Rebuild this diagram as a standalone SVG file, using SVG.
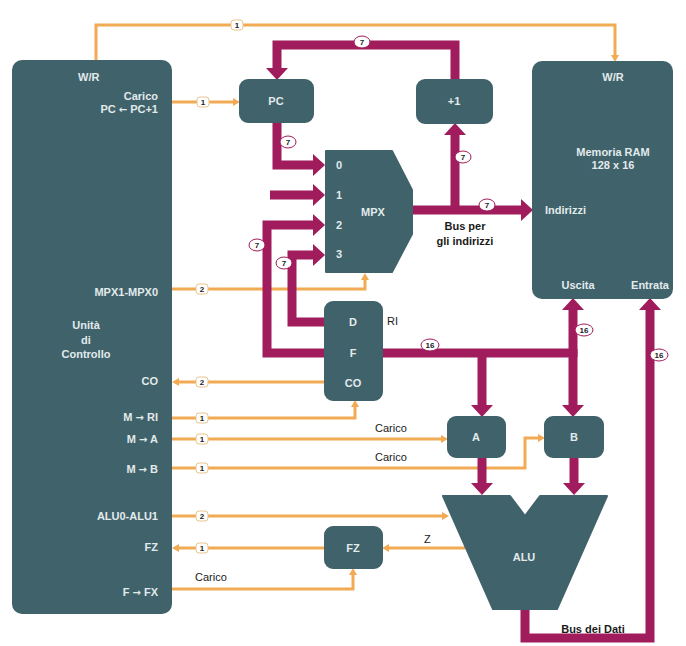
<svg xmlns="http://www.w3.org/2000/svg" width="686" height="646" viewBox="0 0 686 646">
<style>
.box{fill:#40626a;stroke:#40626a;stroke-width:2;stroke-linejoin:round}
.bt{font-family:"Liberation Sans",Arial,sans-serif;font-size:11px;font-weight:bold;fill:#e2eaec}
.ar{font-family:"DejaVu Sans",sans-serif;font-size:10px}
.bl{font-family:"Liberation Sans",Arial,sans-serif;font-size:11px;fill:#1a1a1a}
.bus{fill:none;stroke:#a01c5c;stroke-width:9;stroke-linejoin:miter}
.ctl{fill:none;stroke:#f2aa55;stroke-width:3}
.lab{fill:#fff;stroke:#e9c48f;stroke-width:1}
.labm{fill:#fff;stroke:#a01c5c;stroke-width:1}
.lt{font-family:"Liberation Sans",Arial,sans-serif;font-size:8px;font-weight:bold;fill:#222;text-anchor:middle}
</style>
<defs>
<marker id="am" markerUnits="userSpaceOnUse" markerWidth="12" markerHeight="22" viewBox="0 0 12 22" refX="0" refY="11" orient="auto"><path d="M0,0 L12,11 L0,22 z" fill="#a01c5c"/></marker>
<marker id="ao" markerUnits="userSpaceOnUse" markerWidth="7" markerHeight="8" viewBox="0 0 7 8" refX="0" refY="4" orient="auto"><path d="M0,0 L7,4 L0,8 z" fill="#f2aa55"/></marker>
</defs>
<rect width="686" height="646" fill="#fff"/>

<g id="connectors">
<!-- control lines -->
<path class="ctl" d="M96,60 V25 H615 V55" marker-end="url(#ao)"/>
<path class="ctl" d="M172,102 H233" marker-end="url(#ao)"/>
<path class="ctl" d="M172,289 H365 V280" marker-end="url(#ao)"/>
<path class="ctl" d="M325,382 H179" marker-end="url(#ao)"/>
<path class="ctl" d="M172,418 H355 V407" marker-end="url(#ao)"/>
<path class="ctl" d="M172,439 H441" marker-end="url(#ao)"/>
<path class="ctl" d="M172,468 H525 V438 H538" marker-end="url(#ao)"/>
<path class="ctl" d="M172,516 H442" marker-end="url(#ao)"/>
<path class="ctl" d="M325,548 H179" marker-end="url(#ao)"/>
<path class="ctl" d="M465,548 H389" marker-end="url(#ao)"/>
<path class="ctl" d="M172,589 H353 V575" marker-end="url(#ao)"/>
<!-- buses -->
<path class="bus" d="M455,80 V45 H277 V68" marker-end="url(#am)"/>
<path class="bus" d="M277,122 V165 H313" marker-end="url(#am)"/>
<path class="bus" d="M270,195 H313" marker-end="url(#am)"/>
<path class="bus" d="M326,353 H267 V225 H313" marker-end="url(#am)"/>
<path class="bus" d="M326,322 H292 V255 H313" marker-end="url(#am)"/>
<path class="bus" d="M412,210 H521" marker-end="url(#am)"/>
<path class="bus" d="M455,214 V135" marker-end="url(#am)"/>
<path class="bus" d="M381,353 H577"/>
<path class="bus" d="M482,349 V405" marker-end="url(#am)"/>
<path class="bus" d="M573,357 V310" marker-end="url(#am)"/>
<path class="bus" d="M573,349 V405" marker-end="url(#am)"/>
<path class="bus" d="M482,456 V483" marker-end="url(#am)"/>
<path class="bus" d="M574,456 V483" marker-end="url(#am)"/>
<path class="bus" d="M525,608 V638 H650 V310" marker-end="url(#am)"/>
<!-- width labels -->
<rect class="lab" x="231" y="20" width="12" height="10" rx="3"/><text class="lt" x="237" y="28">1</text>
<rect class="lab" x="197" y="97" width="12" height="10" rx="3"/><text class="lt" x="203" y="105">1</text>
<rect class="lab" x="196" y="284" width="12" height="10" rx="3"/><text class="lt" x="202" y="292">2</text>
<rect class="lab" x="196" y="377" width="12" height="10" rx="3"/><text class="lt" x="202" y="385">2</text>
<rect class="lab" x="196" y="413" width="12" height="10" rx="3"/><text class="lt" x="202" y="421">1</text>
<rect class="lab" x="196" y="434" width="12" height="10" rx="3"/><text class="lt" x="202" y="442">1</text>
<rect class="lab" x="196" y="463" width="12" height="10" rx="3"/><text class="lt" x="202" y="471">1</text>
<rect class="lab" x="196" y="511" width="12" height="10" rx="3"/><text class="lt" x="202" y="519">2</text>
<rect class="lab" x="196" y="543" width="12" height="10" rx="3"/><text class="lt" x="202" y="551">1</text>
<ellipse class="labm" cx="362" cy="42" rx="8" ry="6"/><text class="lt" x="362" y="45">7</text>
<ellipse class="labm" cx="288" cy="142" rx="8" ry="6"/><text class="lt" x="288" y="145">7</text>
<ellipse class="labm" cx="463" cy="157" rx="8" ry="6"/><text class="lt" x="463" y="160">7</text>
<ellipse class="labm" cx="487" cy="205" rx="8" ry="6"/><text class="lt" x="487" y="208">7</text>
<ellipse class="labm" cx="257" cy="245" rx="8" ry="6"/><text class="lt" x="257" y="248">7</text>
<ellipse class="labm" cx="284" cy="263" rx="8" ry="6"/><text class="lt" x="284" y="266">7</text>
<ellipse class="labm" cx="430" cy="345" rx="9" ry="6"/><text class="lt" x="430" y="348">16</text>
<ellipse class="labm" cx="584" cy="330" rx="9" ry="6"/><text class="lt" x="584" y="333">16</text>
<ellipse class="labm" cx="659" cy="355" rx="9" ry="6"/><text class="lt" x="659" y="358">16</text>
</g>

<g id="control-unit">
<rect class="box" x="13" y="61" width="158" height="552" rx="9"/>
<text class="bt" x="78" y="81">W/R</text>
<g text-anchor="end">
<text class="bt" x="158" y="100">Carico</text>
<text class="bt" x="158" y="113">PC <tspan class="ar">←</tspan> PC+1</text>
<text class="bt" x="158" y="296">MPX1-MPX0</text>
<text class="bt" x="158" y="385">CO</text>
<text class="bt" x="158" y="421">M <tspan class="ar">→</tspan> RI</text>
<text class="bt" x="158" y="443">M <tspan class="ar">→</tspan> A</text>
<text class="bt" x="158" y="473">M <tspan class="ar">→</tspan> B</text>
<text class="bt" x="158" y="520">ALU0-ALU1</text>
<text class="bt" x="158" y="551">FZ</text>
<text class="bt" x="158" y="596">F <tspan class="ar">→</tspan> FX</text>
</g>
<g text-anchor="middle">
<text class="bt" x="86" y="329">Unità</text>
<text class="bt" x="86" y="344">di</text>
<text class="bt" x="86" y="358">Controllo</text>
</g>
</g>

<g id="pc"><rect class="box" x="240" y="80" width="73" height="42" rx="8"/><text class="bt" x="276" y="105" text-anchor="middle">PC</text></g>
<g id="inc"><rect class="box" x="417" y="80" width="75" height="43" rx="8"/><text class="bt" x="454" y="105" text-anchor="middle">+1</text></g>

<g id="memory">
<rect class="box" x="533" y="62" width="139" height="236" rx="9"/>
<text class="bt" x="613" y="81" text-anchor="middle">W/R</text>
<text class="bt" x="613" y="156" text-anchor="middle">Memoria RAM</text>
<text class="bt" x="613" y="169" text-anchor="middle">128 x 16</text>
<text class="bt" x="545" y="214">Indirizzi</text>
<text class="bt" x="578" y="289" text-anchor="middle">Uscita</text>
<text class="bt" x="650" y="289" text-anchor="middle">Entrata</text>
</g>

<g id="mpx">
<path class="box" d="M326,151 H392 L412,190 V234 L392,272 H326 Z"/>
<text class="bt" x="339" y="169" text-anchor="middle">0</text>
<text class="bt" x="339" y="199" text-anchor="middle">1</text>
<text class="bt" x="339" y="229" text-anchor="middle">2</text>
<text class="bt" x="339" y="258" text-anchor="middle">3</text>
<text class="bt" x="373" y="216" text-anchor="middle">MPX</text>
</g>

<g id="ri">
<rect class="box" x="325" y="302" width="57" height="98" rx="8"/>
<text class="bt" x="353" y="326" text-anchor="middle">D</text>
<text class="bt" x="353" y="357" text-anchor="middle">F</text>
<text class="bt" x="353" y="387" text-anchor="middle">CO</text>
<text class="bl" x="387" y="325">RI</text>
</g>

<g id="reg-a"><rect class="box" x="448" y="417" width="57" height="40" rx="8"/><text class="bt" x="476" y="441" text-anchor="middle">A</text></g>
<g id="reg-b"><rect class="box" x="545" y="417" width="58" height="40" rx="8"/><text class="bt" x="574" y="441" text-anchor="middle">B</text></g>

<g id="alu">
<path class="box" d="M443,496 H510 L525,516 L540,496 H607 L557,609 H493 Z" stroke-width="4"/>
<text class="bt" x="524" y="561" text-anchor="middle">ALU</text>
</g>

<g id="fz"><rect class="box" x="325" y="527" width="57" height="41" rx="8"/><text class="bt" x="353" y="552" text-anchor="middle">FZ</text></g>

<g id="labels">
<text class="bl" x="375" y="432">Carico</text>
<text class="bl" x="375" y="461">Carico</text>
<text class="bl" x="195" y="581">Carico</text>
<text class="bl" x="424" y="543">Z</text>
<text class="bl" x="465" y="230" text-anchor="middle" font-weight="bold" fill="#333">Bus per</text>
<text class="bl" x="465" y="245" text-anchor="middle" font-weight="bold" fill="#333">gli indirizzi</text>
<text class="bl" x="593" y="633" text-anchor="middle" font-weight="bold" fill="#333">Bus dei Dati</text>
</g>
</svg>
